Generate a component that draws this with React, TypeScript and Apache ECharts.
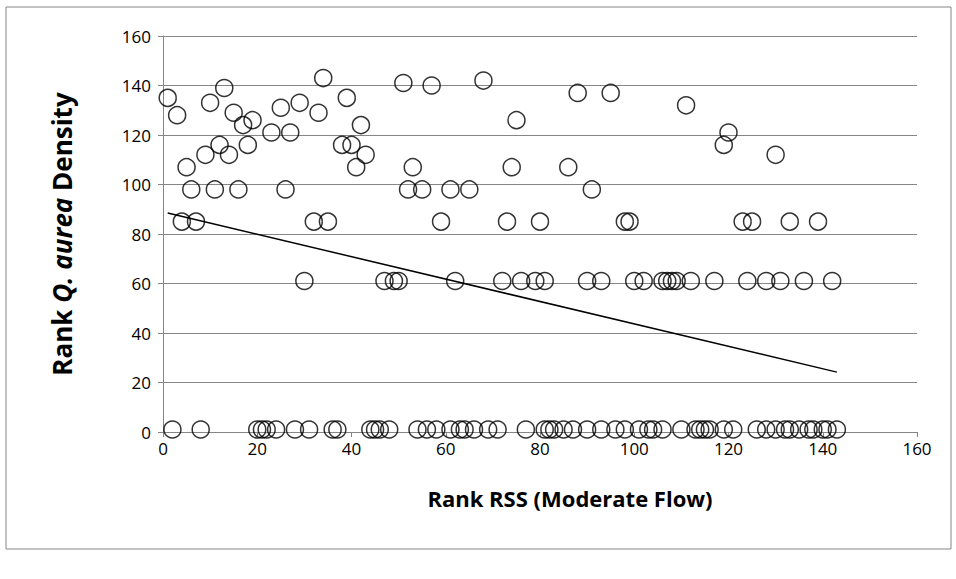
import React, { useEffect, useRef } from "react";
import * as echarts from "echarts";

// Scatter points (x = Rank RSS, y = Rank Q. aurea density), grouped by density level
const upperPoints: number[][] = [
  [1, 135], [3, 128], [10, 133], [13, 139], [15, 129], [17, 124], [19, 126],
  [25, 131], [29, 133], [33, 129], [34, 143], [39, 135], [42, 124], [51, 141],
  [57, 140], [68, 142], [75, 126], [88, 137], [95, 137], [111, 132], [120, 121],
  [23, 121], [27, 121], [119, 116],
  [12, 116], [18, 116], [38, 116], [40, 116],
  [9, 112], [14, 112], [43, 112], [130, 112],
  [5, 107], [41, 107], [53, 107], [74, 107], [86, 107],
  [6, 98], [11, 98], [16, 98], [26, 98], [52, 98], [55, 98], [61, 98], [65, 98], [91, 98],
];
const x85 = [4, 7, 32, 35, 59, 73, 80, 98, 99, 123, 125, 133, 139];
const x61 = [30, 47, 49, 50, 62, 72, 76, 79, 81, 90, 93, 100, 102, 106, 107, 108, 109, 112, 117, 124, 128, 131, 136, 142];
const x1 = [2, 8, 20, 21, 22, 24, 28, 31, 36, 37, 44, 45, 46, 48, 54, 56, 58, 61, 63, 64, 66, 69, 71,
  77, 81, 82, 83, 85, 87, 90, 93, 96, 98, 101, 103, 104, 106, 110, 113, 114, 115, 116, 119, 121,
  126, 128, 130, 132, 133, 135, 137, 138, 140, 141, 143];
const trendLine: number[][] = [[1, 88.5], [143, 24.2]];
const xTicks = { min: 0, max: 160, interval: 20 };
const yTicks = { min: 0, max: 160, interval: 20 };

export default function App() {
  const ref = useRef<HTMLDivElement>(null);
  useEffect(() => {
    document.body.style.margin = "0";
    const chart = echarts.init(ref.current!, null, { renderer: "svg" });
    const points = [
      ...upperPoints,
      ...x85.map((x) => [x, 85]),
      ...x61.map((x) => [x, 61]),
      ...x1.map((x) => [x, 1]),
    ];
    const font = "'Open Sans', 'Liberation Sans', sans-serif";
    chart.setOption({
      animation: false,
      backgroundColor: "#ffffff",
      textStyle: { fontFamily: font },
      graphic: [
        {
          type: "rect",
          shape: { x: 6, y: 7, width: 945, height: 542 },
          style: { fill: "none", stroke: "#868686", lineWidth: 1 },
          silent: true,
        },
      ],
      grid: { left: 163, right: 39, top: 36, bottom: 147 },
      xAxis: {
        type: "value",
        ...xTicks,
        name: "Rank RSS (Moderate Flow)",
        nameLocation: "middle",
        nameGap: 55,
        nameTextStyle: { fontFamily: font, fontWeight: "bold", fontSize: 22, color: "#000", padding: [0, 0, 0, 60] },
        axisLine: { show: true, lineStyle: { color: "#868686", width: 1 } },
        axisTick: { show: true, length: 5, lineStyle: { color: "#868686" } },
        axisLabel: { color: "#000", fontSize: 17, margin: 8, fontFamily: font },
        splitLine: { show: false },
      },
      yAxis: {
        type: "value",
        ...yTicks,
        name: "{b|Rank }{i|Q. aurea}{b| Density}",
        nameLocation: "middle",
        nameRotate: 90,
        nameGap: 88,
        nameTextStyle: {
          rich: {
            b: { fontFamily: font, fontWeight: "bold", fontSize: 26, color: "#000" },
            i: { fontFamily: font, fontWeight: "bold", fontStyle: "italic", fontSize: 26, color: "#000" },
          },
        },
        axisLine: { show: true, lineStyle: { color: "#868686", width: 1 } },
        axisTick: { show: true, length: 5, lineStyle: { color: "#868686" } },
        axisLabel: { color: "#000", fontSize: 17, margin: 12, fontFamily: font },
        splitLine: { show: true, lineStyle: { color: "#868686", width: 1 } },
      },
      series: [
        {
          type: "scatter",
          data: points,
          symbol: "circle",
          symbolSize: 17,
          itemStyle: { color: "rgba(255,255,255,0)", borderColor: "#000", borderWidth: 1.5 },
          z: 3,
        },
        {
          type: "line",
          data: trendLine,
          showSymbol: false,
          symbol: "none",
          lineStyle: { color: "#000", width: 1.5 },
          z: 4,
        },
      ],
    });
    return () => chart.dispose();
  }, []);
  return <div ref={ref} style={{ width: 956, height: 579 }} />;
}
